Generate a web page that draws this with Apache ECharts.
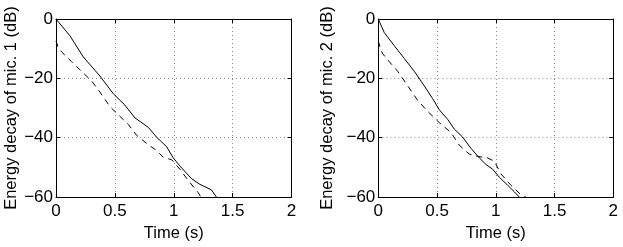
<!DOCTYPE html>
<html><head><meta charset="utf-8">
<script src="https://cdn.jsdelivr.net/npm/echarts@6/dist/echarts.min.js"></script>
<style>html,body{margin:0;padding:0;background:#fff}#c{width:623px;height:247px}</style>
</head><body><div id="c"></div>
<script>
// Data
const xTicks = [0, 0.5, 1, 1.5, 2];
const yTicks = [-60, -40, -20, 0];
const yLabels = ['Energy decay of mic. 1 (dB)', 'Energy decay of mic. 2 (dB)'];
const xLabel = 'Time (s)';

const mic1SolidT = [0, 0.119, 0.232, 0.373, 0.487, 0.585, 0.670, 0.784, 0.854, 0.939, 0.996, 1.052, 1.151, 1.222, 1.321, 1.363];
const mic1SolidV = [0, -5.7, -12.8, -19.2, -25.2, -29.0, -33.3, -36.5, -39.8, -43.0, -46.8, -49.5, -53.8, -55.7, -57.6, -60];
const mic1DashT = [0, 0.02, 0.048, 0.133, 0.232, 0.303, 0.373, 0.458, 0.543, 0.614, 0.685, 0.769, 0.854, 0.911, 0.982, 1.052, 1.123, 1.208, 1.23];
const mic1DashV = [-7.4, -9.8, -11.1, -14.4, -18.2, -20.9, -24.6, -29.5, -32.8, -35.5, -39.2, -41.9, -44.3, -46.6, -47.4, -50.6, -54.4, -58.5, -60];

const mic2SolidT = [0, 0.051, 0.136, 0.221, 0.306, 0.391, 0.462, 0.519, 0.590, 0.647, 0.718, 0.789, 0.860, 0.916, 0.973, 1.030, 1.101, 1.157, 1.200];
const mic2SolidV = [0, -4.6, -9.0, -13.3, -17.6, -22.5, -26.8, -30.6, -33.8, -37.1, -39.8, -43.6, -46.8, -49.0, -50.6, -53.3, -56.0, -58.2, -60];
const mic2DashT = [0, 0.02, 0.037, 0.094, 0.165, 0.250, 0.335, 0.420, 0.519, 0.618, 0.689, 0.774, 0.845, 0.930, 0.987, 1.044, 1.129, 1.214, 1.257];
const mic2DashV = [-7.4, -10.2, -11.7, -14.4, -17.6, -22.5, -27.4, -31.1, -34.9, -38.2, -42.5, -45.5, -46.3, -46.8, -47.9, -52.2, -56.0, -59.2, -60];

const zip = (t, v) => t.map((x, i) => [x, v[i]]);
const FONT = 'Liberation Sans, Arial, sans-serif';
const grids = [
  {left: 56, top: 19, width: 235.5, height: 185},
  {left: 378.3, top: 19, width: 235, height: 185}
];
const yNameGaps = [36, 42];
const xAxis = [], yAxis = [], series = [];
const lineStyle = {color: '#000', width: 1};
const gridLine = {show: true, lineStyle: {color: '#8c8c8c', type: [1, 3], width: 1}};
grids.forEach((g, i) => {
  xAxis.push({gridIndex: i, type: 'value', min: 0, max: 2, interval: 0.5, position: 'bottom',
    name: xLabel, nameLocation: 'middle', nameGap: 25,
    nameTextStyle: {fontFamily: FONT, fontSize: 16.5, color: '#000'},
    axisLine: {show: true, onZero: false, lineStyle},
    axisTick: {show: true, inside: true, length: 4, lineStyle},
    axisLabel: {fontFamily: FONT, fontSize: 17, color: '#000', margin: 6,
      formatter: v => xTicks.includes(v) ? String(v) : ''},
    splitLine: gridLine});
  xAxis.push({gridIndex: i, type: 'value', min: 0, max: 2, interval: 0.5, position: 'top',
    axisLine: {show: true, onZero: false, lineStyle},
    axisTick: {show: true, inside: true, length: 4, lineStyle},
    axisLabel: {show: false}, splitLine: {show: false}});
  yAxis.push({gridIndex: i, type: 'value', min: -60, max: 0, interval: 20, position: 'left',
    name: yLabels[i], nameLocation: 'middle', nameGap: yNameGaps[i], nameRotate: 90,
    nameTextStyle: {fontFamily: FONT, fontSize: 16.5, color: '#000'},
    axisLine: {show: true, onZero: false, lineStyle},
    axisTick: {show: true, inside: true, length: 4, lineStyle},
    axisLabel: {fontFamily: FONT, fontSize: 17, color: '#000', margin: 3,
      formatter: v => yTicks.includes(v) ? (v < 0 ? '\u2212' + Math.abs(v) : String(v)) : ''},
    splitLine: gridLine});
  yAxis.push({gridIndex: i, type: 'value', min: -60, max: 0, interval: 20, position: 'right',
    axisLine: {show: true, onZero: false, lineStyle},
    axisTick: {show: true, inside: true, length: 4, lineStyle},
    axisLabel: {show: false}, splitLine: {show: false}});
});
const sets = [[mic1SolidT, mic1SolidV, mic1DashT, mic1DashV], [mic2SolidT, mic2SolidV, mic2DashT, mic2DashV]];
sets.forEach((s, i) => {
  series.push({type: 'line', xAxisIndex: i * 2, yAxisIndex: i * 2, data: zip(s[0], s[1]),
    symbol: 'none', smooth: false, clip: true, lineStyle: {color: '#000', width: 1}});
  series.push({type: 'line', xAxisIndex: i * 2, yAxisIndex: i * 2, data: zip(s[2], s[3]),
    symbol: 'none', smooth: false, clip: true, lineStyle: {color: '#000', width: 1, type: [6, 5]}});
});
const chart = echarts.init(document.getElementById('c'), null, {renderer: 'canvas'});
chart.setOption({animation: false, backgroundColor: '#fff', grid: grids, xAxis, yAxis, series});
</script></body></html>
